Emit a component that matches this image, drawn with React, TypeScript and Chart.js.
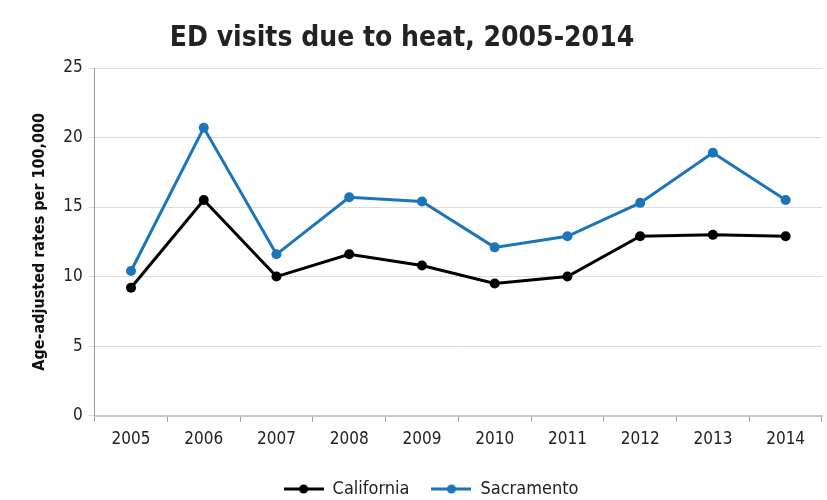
import React, { useEffect, useRef } from "react";
import { Chart, registerables } from "chart.js";

Chart.register(...registerables);

const years = ["2005", "2006", "2007", "2008", "2009", "2010", "2011", "2012", "2013", "2014"];
const california = [9.2, 15.5, 10.0, 11.6, 10.8, 9.5, 10.0, 12.9, 13.0, 12.9];
const sacramento = [10.4, 20.7, 11.6, 15.7, 15.4, 12.1, 12.9, 15.3, 18.9, 15.5];
const titleText = "ED visits due to heat, 2005-2014";

const FONT = "'Liberation Sans Narrow', 'DejaVu Sans Condensed', 'Open Sans', sans-serif";
const BLUE = "#1b75bb";
const BLACK = "#000000";

function legendIcon(color: string): HTMLCanvasElement {
  const c = document.createElement("canvas");
  c.width = 40;
  c.height = 12;
  const ctx = c.getContext("2d")!;
  ctx.strokeStyle = color;
  ctx.lineWidth = 3;
  ctx.beginPath();
  ctx.moveTo(0, 6);
  ctx.lineTo(40, 6);
  ctx.stroke();
  ctx.fillStyle = color;
  ctx.beginPath();
  ctx.arc(20, 6, 4.5, 0, Math.PI * 2);
  ctx.fill();
  return c;
}

const titlePlugin = {
  id: "offsetTitle",
  afterDraw(chart: any) {
    const ctx = chart.ctx;
    ctx.save();
    ctx.font = `bold 28px ${FONT}`;
    ctx.fillStyle = "#222222";
    ctx.textAlign = "center";
    ctx.textBaseline = "middle";
    ctx.fillText(titleText, 402, 39);
    ctx.restore();
  },
};

export default function App() {
  const ref = useRef<HTMLCanvasElement>(null);
  useEffect(() => {
    document.body.style.margin = "0";
    const icons = [legendIcon(BLACK), legendIcon(BLUE)];
    const chart = new Chart(ref.current!, {
      type: "line",
      data: {
        labels: years,
        datasets: [
          {
            label: "California",
            data: california,
            borderColor: BLACK,
            backgroundColor: BLACK,
            borderWidth: 3,
            pointRadius: 5,
            pointBackgroundColor: BLACK,
            pointBorderWidth: 0,
            tension: 0,
          },
          {
            label: "Sacramento",
            data: sacramento,
            borderColor: BLUE,
            backgroundColor: BLUE,
            borderWidth: 3,
            pointRadius: 5,
            pointBackgroundColor: BLUE,
            pointBorderWidth: 0,
            tension: 0,
          },
        ],
      },
      plugins: [titlePlugin],
      options: {
        animation: false,
        responsive: false,
        layout: { padding: { left: 30, right: -5, top: 68, bottom: -8 } },
        plugins: {
          title: { display: false },
          legend: {
            position: "bottom",
            labels: {
              usePointStyle: true,
              pointStyleWidth: 40,
              color: "#222222",
              font: { family: FONT, size: 18 },
              padding: 22,
              generateLabels: (ch: any) =>
                ch.data.datasets.map((ds: any, i: number) => ({
                  text: ds.label,
                  fillStyle: ds.borderColor,
                  strokeStyle: ds.borderColor,
                  pointStyle: icons[i],
                  fontColor: "#222222",
                  datasetIndex: i,
                  hidden: false,
                })),
            },
          },
          tooltip: { enabled: false },
        },
        scales: {
          x: {
            offset: true,
            grid: {
              display: true,
              offset: true,
              drawOnChartArea: false,
              drawTicks: true,
              tickLength: 6,
              color: "#9a9a9a",
            },
            border: { color: "#c8c8c8", width: 2 },
            ticks: {
              color: "#222222",
              font: { family: FONT, size: 17 },
              padding: 8,
              maxRotation: 0,
            },
          },
          y: {
            min: 0,
            max: 25,
            ticks: {
              stepSize: 5,
              color: "#222222",
              font: { family: FONT, size: 17 },
              padding: 6,
            },
            grid: { color: "#dcdcdc", tickLength: 6, lineWidth: 1 },
            border: { color: "#9a9a9a", width: 1 },
            title: {
              display: true,
              text: "Age-adjusted rates per 100,000",
              color: "#111111",
              font: { family: FONT, size: 16, weight: "bold" },
              padding: { top: 0, bottom: 8 },
            },
          },
        },
      },
    });
    return () => chart.destroy();
  }, []);
  return (
    <div style={{ position: "absolute", left: 0, top: 0, width: 827, height: 500 }}>
      <canvas ref={ref} width={827} height={500} style={{ display: "block" }} />
    </div>
  );
}
